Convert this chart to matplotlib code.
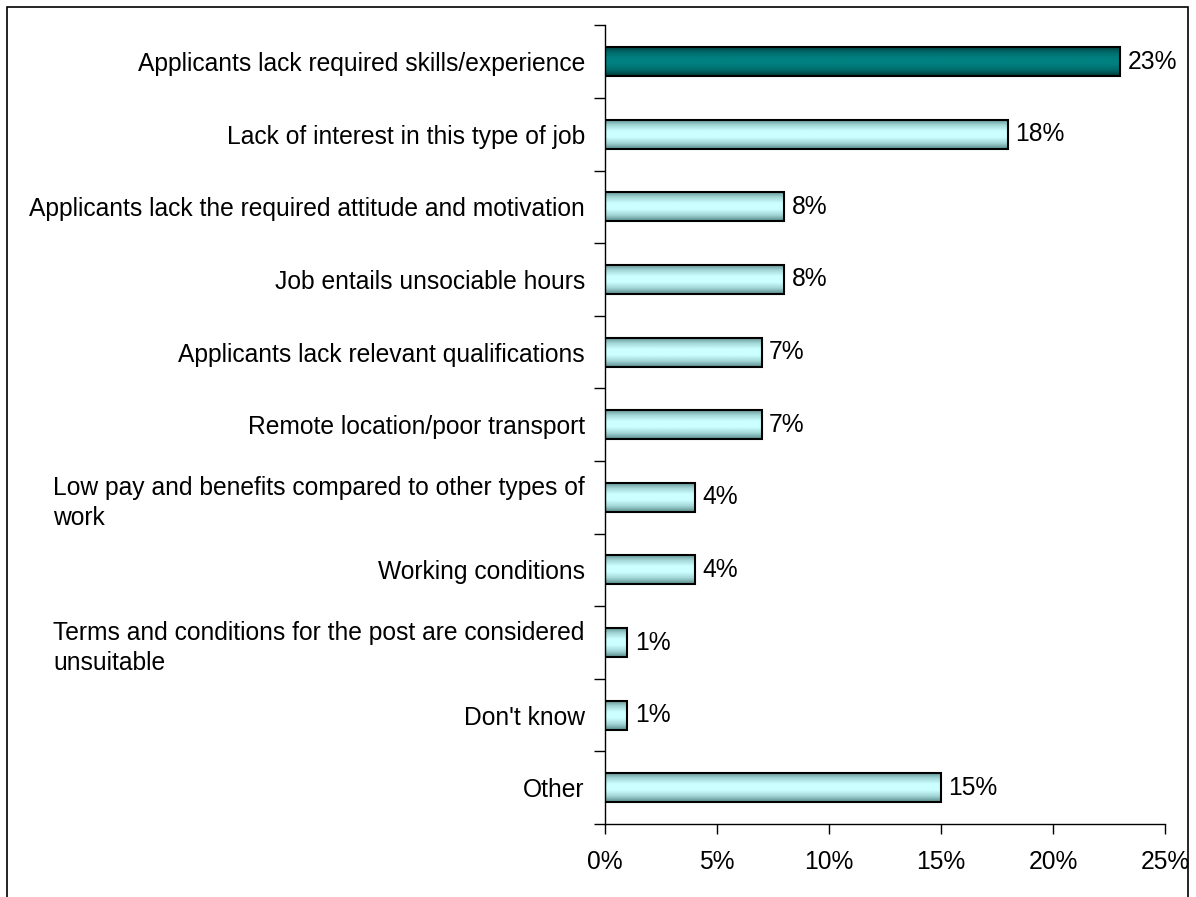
import numpy as np
import matplotlib
matplotlib.use("Agg")
import matplotlib.pyplot as plt
from matplotlib.colors import LinearSegmentedColormap
from matplotlib.patches import Rectangle

plt.rcParams['font.family'] = ['Liberation Sans', 'DejaVu Sans']

categories = [
    "Applicants lack required skills/experience",
    "Lack of interest in this type of job",
    "Applicants lack the required attitude and motivation",
    "Job entails unsociable hours",
    "Applicants lack relevant qualifications",
    "Remote location/poor transport",
    "Low pay and benefits compared to other types of\nwork",
    "Working conditions",
    "Terms and conditions for the post are considered\nunsuitable",
    "Don't know",
    "Other",
]
values = [23, 18, 8, 8, 7, 7, 4, 4, 1, 1, 15]
xticks = [0, 5, 10, 15, 20, 25]

FS = 17.7

fig = plt.figure(figsize=(11.96, 8.97), dpi=100)
ax = fig.add_axes([605 / 1196, 1 - 824 / 897, 560 / 1196, (824 - 25.4) / 897])

# outer chart frame
fig.patches.append(Rectangle((7 / 1196, -0.05), (1188 - 7) / 1196, 1.05 - 7 / 897,
                             transform=fig.transFigure, fill=False,
                             edgecolor='black', linewidth=1.2))

light = LinearSegmentedColormap.from_list(
    "light", ["#5a8a8a", "#a2d6d6", "#ccffff", "#ccffff", "#a2d6d6", "#5a8a8a"])
dark = LinearSegmentedColormap.from_list(
    "dark", ["#003a3a", "#006a6a", "#008080", "#008080", "#006a6a", "#003a3a"])
grad = np.linspace(0, 1, 256).reshape(-1, 1)

h = 0.4
for i, v in enumerate(values):
    cmap = dark if i == 0 else light
    ax.imshow(grad, cmap=cmap, extent=(0, v, i + h / 2, i - h / 2),
              aspect='auto', interpolation='bilinear', zorder=2)
    ax.add_patch(Rectangle((0, i - h / 2), v, h, fill=False,
                           edgecolor='black', linewidth=1.5, zorder=3))
    ax.text(v + 0.33, i, f"{v}%", va='center', ha='left', fontsize=FS)

ax.set_xlim(0, 25)
ax.set_ylim(len(values) - 0.5, -0.5)

ax.set_yticks(range(len(values)))
ax.set_yticklabels(categories, fontsize=FS, multialignment='left', linespacing=1.33)
ax.tick_params(axis='y', which='major', length=0, pad=14.5)
ax.set_yticks(np.arange(-0.5, len(values), 1.0), minor=True)
ax.tick_params(axis='y', which='minor', length=8, width=1, direction='out')

ax.set_xticks(xticks)
ax.set_xticklabels([f"{t}%" for t in xticks], fontsize=FS)
ax.tick_params(axis='x', length=7, width=1, direction='out', pad=12)

for s in ['top', 'right']:
    ax.spines[s].set_visible(False)
for s in ['left', 'bottom']:
    ax.spines[s].set_linewidth(1)

fig.savefig("out.png", dpi=100)
